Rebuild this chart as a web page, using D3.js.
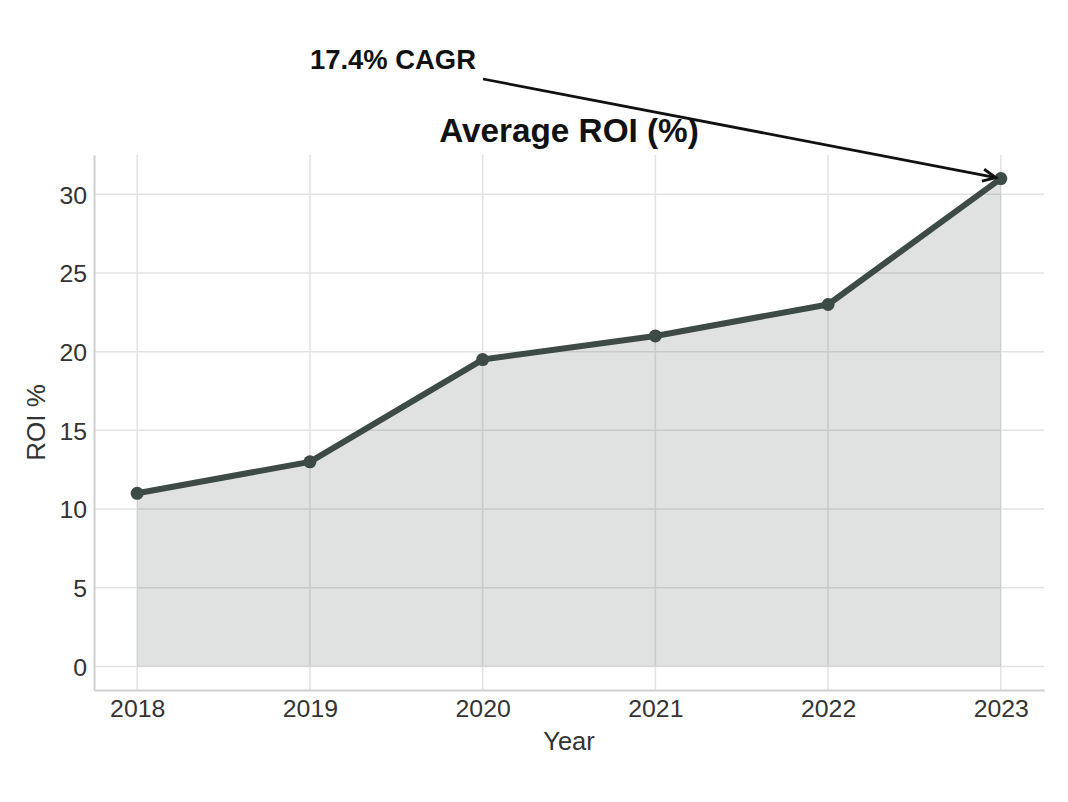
<!DOCTYPE html>
<html>
<head>
<meta charset="utf-8">
<script src="https://cdn.jsdelivr.net/npm/d3@7/dist/d3.min.js"></script>
<style>
  body { margin: 0; background: #fff; }
  svg text { font-family: "Liberation Sans", Arial, sans-serif; }
</style>
</head>
<body>
<svg id="chart" width="1068" height="802"></svg>
<script>
const years = [2018, 2019, 2020, 2021, 2022, 2023];
const roi = [11, 13, 19.5, 21, 23, 31];
const yTicks = [0, 5, 10, 15, 20, 25, 30];
const titleText = "Average ROI (%)";
const annotationText = "17.4% CAGR";
const xLabel = "Year";
const yLabel = "ROI %";

(function () {
const svg = d3.select("#chart");
const pLeft = 94, pRight = 1044, pTop = 155, pBottom = 690;
const x = d3.scaleLinear().domain([2017.75, 2023.25]).range([pLeft, pRight]);
const y = d3.scaleLinear().domain([-1.5, 32.5]).range([pBottom, pTop]);
const lineColor = "#3d4a45";

// grid
svg.append("g").selectAll("line").data(yTicks).join("line")
  .attr("x1", pLeft).attr("x2", pRight)
  .attr("y1", d => y(d)).attr("y2", d => y(d))
  .attr("stroke", "#e3e3e3").attr("stroke-width", 1.5);
svg.append("g").selectAll("line").data(years).join("line")
  .attr("y1", pTop).attr("y2", pBottom)
  .attr("x1", d => x(d)).attr("x2", d => x(d))
  .attr("stroke", "#e3e3e3").attr("stroke-width", 1.5);

// area
const data = years.map((yr, i) => ({yr, v: roi[i]}));
svg.append("path").datum(data)
  .attr("d", d3.area().x(d => x(d.yr)).y0(y(0)).y1(d => y(d.v)))
  .attr("fill", lineColor).attr("fill-opacity", 0.16);

// line
svg.append("path").datum(data)
  .attr("d", d3.line().x(d => x(d.yr)).y(d => y(d.v)))
  .attr("fill", "none").attr("stroke", lineColor)
  .attr("stroke-width", 6).attr("stroke-linejoin", "round");
svg.append("g").selectAll("circle").data(data).join("circle")
  .attr("cx", d => x(d.yr)).attr("cy", d => y(d.v)).attr("r", 6.5)
  .attr("fill", lineColor);

// axes
const xAxis = svg.append("g").attr("transform", `translate(0,${pBottom})`)
  .call(d3.axisBottom(x).tickValues(years).tickFormat(d3.format("d")).tickSize(0).tickPadding(27));
const yAxis = svg.append("g").attr("transform", `translate(${pLeft},0)`)
  .call(d3.axisLeft(y).tickValues(yTicks).tickSize(0).tickPadding(7));
[xAxis, yAxis].forEach(g => {
  g.select(".domain").attr("stroke", "#cfcfcf").attr("stroke-width", 2);
  g.selectAll("text").attr("font-size", 24.8).attr("fill", "#333")
    .attr("font-family", "Liberation Sans, Arial, sans-serif");
});
xAxis.selectAll("text").attr("dy", 0);
yAxis.selectAll("text").attr("dy", "0.36em");

// labels
svg.append("text").attr("x", (pLeft + pRight) / 2).attr("y", 750)
  .attr("text-anchor", "middle").attr("font-size", 25.5).attr("fill", "#333").text(xLabel);
svg.append("text").attr("transform", `translate(45,${(pTop + pBottom) / 2}) rotate(-90)`)
  .attr("text-anchor", "middle").attr("font-size", 26).attr("fill", "#333").text(yLabel);

// title
svg.append("text").attr("x", 569).attr("y", 142)
  .attr("text-anchor", "middle").attr("font-size", 33.3).attr("font-weight", "bold")
  .attr("fill", "#111").text(titleText);

// annotation
svg.append("text").attr("x", 310).attr("y", 69)
  .attr("font-size", 27.4).attr("font-weight", "bold").attr("fill", "#111").text(annotationText);

const defs = svg.append("defs");
defs.append("marker").attr("id", "arrow").attr("viewBox", "0 0 20 20")
  .attr("refX", 18).attr("refY", 10).attr("markerWidth", 20).attr("markerHeight", 20)
  .attr("markerUnits", "userSpaceOnUse").attr("orient", "auto")
  .append("path").attr("d", "M5,4 L18,10 L5,16").attr("fill", "none")
  .attr("stroke", "#111").attr("stroke-width", 2.8).attr("stroke-linejoin", "miter");

const tx = x(2023), ty = y(31);
svg.append("line").attr("x1", 483).attr("y1", 79)
  .attr("x2", tx - 5).attr("y2", ty - 1)
  .attr("stroke", "#111").attr("stroke-width", 2.8)
  .attr("marker-end", "url(#arrow)");
})();
</script>
</body>
</html>
